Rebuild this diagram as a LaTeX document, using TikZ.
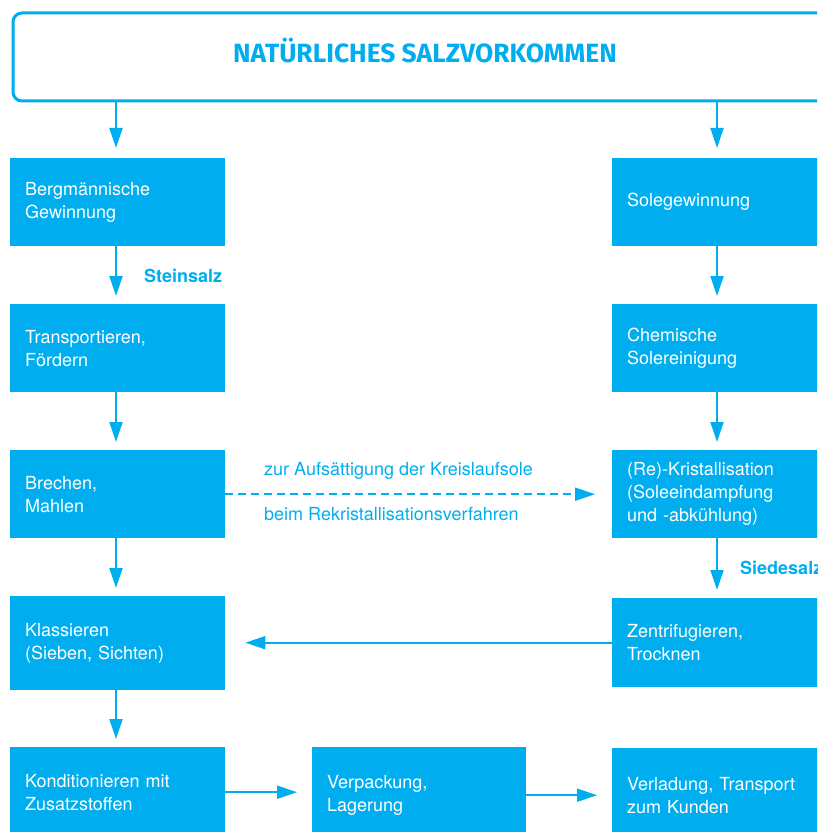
\documentclass[tikz,border=0pt]{standalone}
\usepackage{fontspec}
\setmainfont{TeX Gyre Heros}
\newfontfamily\titlefont{Fira Sans}
\usetikzlibrary{arrows.meta}
\definecolor{salz}{HTML}{00AEEF}
\begin{document}
\begin{tikzpicture}[x=1pt,y=-1pt,
  box/.style={fill=salz,text=white,anchor=north west,inner xsep=15pt,inner ysep=0pt,align=left,
    font=\fontsize{18}{23}\selectfont},
  arr/.style={draw=salz,line width=2pt,-{Triangle[length=20pt,width=13pt]}},
  dasharr/.style={arr,dash pattern=on 8pt off 5pt},
  lbl/.style={text=salz,anchor=west,inner sep=0pt,font=\fontsize{18}{22}\selectfont},
  blbl/.style={lbl,font=\fontsize{18}{22}\selectfont\bfseries}]
\clip (0,0) rectangle (817,832);
\useasboundingbox (0,0) rectangle (817,832);
% top
\node[draw=salz,line width=3pt,rounded corners=9pt,minimum width=830pt,minimum height=88pt,anchor=north west,inner sep=0pt] (top) at (11.5,11.5) {};
\node[text=salz,font=\titlefont\bfseries\fontsize{26.4}{30}\selectfont] (title) at (425,51) {NATÜRLICHES SALZVORKOMMEN};
% left column
\node[box,minimum width=215pt,minimum height=88pt,text width=185pt] (l1) at (10,158) {Bergmännische\\Gewinnung};
\node[box,minimum width=215pt,minimum height=88pt,text width=185pt] (l2) at (10,304) {Transportieren,\\Fördern};
\node[box,minimum width=215pt,minimum height=88pt,text width=185pt] (l3) at (10,450) {Brechen,\\Mahlen};
\node[box,minimum width=215pt,minimum height=94pt,text width=185pt] (l4) at (10,596) {Klassieren\\(Sieben, Sichten)};
\node[box,minimum width=215pt,minimum height=90pt,text width=185pt] (l5) at (10,747) {Konditionieren mit\\Zusatzstoffen};
% middle
\node[box,minimum width=214pt,minimum height=96pt,text width=184pt] (m5) at (312,747) {Verpackung,\\Lagerung};
% right column
\node[box,minimum width=230pt,minimum height=88pt,text width=200pt] (r1) at (612,158) {Solegewinnung};
\node[box,minimum width=230pt,minimum height=88pt,text width=200pt] (r2) at (612,304) {Chemische\\Solereinigung};
\node[box,minimum width=230pt,minimum height=88pt,text width=200pt] (r3) at (612,450) {(Re)-Kristallisation\\(Soleeindampfung\\und -abkühlung)};
\node[box,minimum width=230pt,minimum height=89pt,text width=200pt] (r4) at (612,598) {Zentrifugieren,\\Trocknen};
\node[box,minimum width=230pt,minimum height=94pt,text width=200pt] (r5) at (612,748) {Verladung, Transport\\zum Kunden};
% vertical arrows left
\coordinate (lx) at (116,0);
\draw[arr] (lx |- top.south) -- ([yshift=10pt]lx |- l1.north);
\draw[arr] (lx |- l1.south) -- ([yshift=8pt]lx |- l2.north);
\draw[arr] (lx |- l2.south) -- ([yshift=8pt]lx |- l3.north);
\draw[arr] (lx |- l3.south) -- ([yshift=8pt]lx |- l4.north);
\draw[arr] (lx |- l4.south) -- ([yshift=8pt]lx |- l5.north);
% vertical arrows right
\coordinate (rx) at (717,0);
\draw[arr] (rx |- top.south) -- ([yshift=10pt]rx |- r1.north);
\draw[arr] (rx |- r1.south) -- ([yshift=8pt]rx |- r2.north);
\draw[arr] (rx |- r2.south) -- ([yshift=8pt]rx |- r3.north);
\draw[arr] (rx |- r3.south) -- ([yshift=8pt]rx |- r4.north);
% horizontal
\draw[dasharr] (l3.east) -- ([xshift=-17pt]l3.east -| r3.west);
\draw[arr] (r4.west) -- ([xshift=20pt]r4.west -| l4.east);
\draw[arr] (l5.east) -- ([xshift=-15pt]m5.west |- l5.east);
\draw[arr] (m5.east) -- ([xshift=-15pt]r5.west |- m5.east);
% labels
\node[blbl] (stein) at (144,276) {Steinsalz};
\node[blbl] (siede) at (740,568) {Siedesalz};
\node[lbl] (zur) at (264,471) {zur Aufsättigung der Kreislaufsole};
\node[lbl] (beim) at (264,514) {beim Rekristallisationsverfahren};
\end{tikzpicture}
\end{document}
